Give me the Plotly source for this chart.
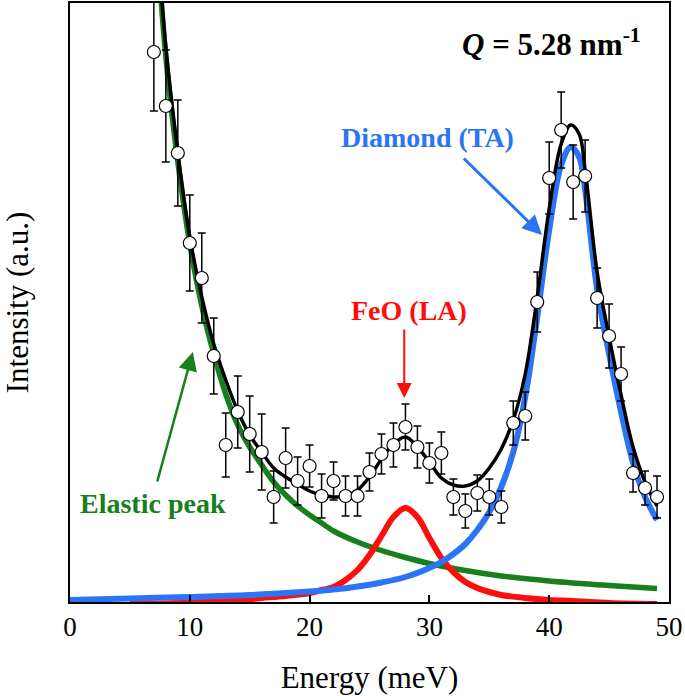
import plotly.graph_objects as go

# Measured data (energy in meV, intensity in arbitrary units)
energy = list(range(7, 50))
intensity = [550, 496, 449, 359, 324, 246, 157, 190, 168, 150, 105, 144, 121, 136, 106, 121,
             106, 106, 130, 148, 157, 175, 155, 139, 149, 105, 91, 109, 105, 95, 179, 186,
             300, 424, 472, 420, 426, 304, 266, 228, 129, 114, 105]
intensity_err = [59, 56, 53, 48, 45, 38, 32, 36, 38, 38, 26, 30, 24, 21, 22, 19, 20, 20, 19, 20,
                 22, 23, 21, 20, 21, 18, 17, 18, 18, 16, 22, 24, 30, 36, 38, 37, 36, 30, 32, 27,
                 19, 17, 21]

# Fit components
elastic_x = [7, 7.5, 8, 9, 10, 11, 12, 13, 14, 15, 16, 17, 18, 19, 20, 21, 22, 24, 26, 28, 30,
             33, 36, 40, 45, 49]
elastic_y = [715, 620, 545, 440, 358, 296, 248, 208, 177, 155, 137, 120, 107, 96, 87, 79, 71,
             60, 51.5, 44.5, 38.5, 31.5, 26, 21, 16.5, 13.5]

feo_x = [5, 8, 11, 14, 16, 18, 20, 21, 22, 23, 24, 25, 26, 27, 28, 29, 30, 31, 32, 33, 34, 35,
         36, 38, 40, 42, 45, 49]
feo_y = [-2, -1.5, 0, 2, 4, 6, 9, 12, 15, 22, 32, 47, 66, 85, 94, 85, 64, 44, 30, 20, 14, 10,
         7, 4, 2, 1, -1, -2]

diamond_x = [0, 5, 10, 15, 20, 22, 24, 26, 28, 30, 31, 32, 33, 34, 35, 36, 37, 38, 39, 40, 41,
             41.8, 42.5, 43, 44, 45, 46, 47, 48, 49]
diamond_y = [2, 3.5, 5, 7, 10.5, 12.5, 15.5, 19.5, 25, 34, 40, 48, 58, 72, 90, 115, 150, 205,
             285, 372, 437, 455, 445, 412, 313, 248, 190, 139, 105, 82]

total_x = [7, 7.5, 8, 9, 10, 11, 12, 13, 14, 15, 16, 17, 18, 19, 20, 21, 22, 23, 24, 25, 26,
           27, 28, 29, 30, 31, 32, 33, 34, 35, 36, 37, 38, 39, 40, 41, 41.8, 42.5, 43, 44, 45,
           46, 47, 48, 49]
total_y = [725, 630, 555, 450, 365, 305, 258, 222, 191, 167, 150, 134, 125, 118, 111, 107, 105,
           106, 112, 125, 143, 158, 165, 155, 140, 124, 117, 116, 121, 134, 153, 182, 228, 305,
           393, 458, 477, 468, 432, 330, 265, 207, 155, 120, 96]

FONT = "Liberation Serif, Times New Roman, serif"
GREEN = "#17801c"
RED = "#ff0d0d"
BLUE = "#2a74f5"

fig = go.Figure()
fig.add_trace(go.Scatter(x=elastic_x, y=elastic_y, mode="lines", line=dict(color=GREEN, width=5.5, shape="spline"), showlegend=False))
fig.add_trace(go.Scatter(x=feo_x, y=feo_y, mode="lines", line=dict(color=RED, width=6, shape="spline"), showlegend=False))
fig.add_trace(go.Scatter(x=diamond_x, y=diamond_y, mode="lines", line=dict(color=BLUE, width=6, shape="spline"), showlegend=False))
fig.add_trace(go.Scatter(x=total_x, y=total_y, mode="lines", line=dict(color="black", width=3.5, shape="spline"), showlegend=False))
fig.add_trace(go.Scatter(
    x=energy, y=intensity, mode="markers",
    marker=dict(symbol="circle", size=13, color="white", line=dict(color="black", width=1.2)),
    error_y=dict(type="data", array=intensity_err, color="black", thickness=1.5, width=4),
    showlegend=False))

annotations = [
    dict(x=47.8, y=560, xref="x", yref="y", text="<b><i>Q</i> = 5.28 nm<sup>-1</sup></b>",
         showarrow=False, xanchor="right", yanchor="middle", font=dict(family=FONT, size=31, color="black")),
    dict(x=29.8, y=465, xref="x", yref="y", text="<b>Diamond (TA)</b>", showarrow=False,
         font=dict(family=FONT, size=28, color=BLUE)),
    dict(x=28.3, y=292, xref="x", yref="y", text="<b>FeO (LA)</b>", showarrow=False,
         font=dict(family=FONT, size=28, color=RED)),
    dict(x=6.9, y=99, xref="x", yref="y", text="<b>Elastic peak</b>", showarrow=False,
         font=dict(family=FONT, size=28, color=GREEN)),
    dict(x=39.4, y=367, ax=32.75, ay=445, xref="x", yref="y", axref="x", ayref="y", text="",
         showarrow=True, arrowhead=2, arrowsize=1.3, arrowwidth=3, arrowcolor=BLUE),
    dict(x=27.9, y=204, ax=27.9, ay=274, xref="x", yref="y", axref="x", ayref="y", text="",
         showarrow=True, arrowhead=2, arrowsize=1.5, arrowwidth=2, arrowcolor=RED),
    dict(x=10.25, y=250, ax=7.25, ay=119, xref="x", yref="y", axref="x", ayref="y", text="",
         showarrow=True, arrowhead=2, arrowsize=1.5, arrowwidth=2.5, arrowcolor=GREEN),
]

fig.update_layout(
    width=685, height=696,
    margin=dict(l=70, r=16, t=3, b=94),
    paper_bgcolor="white", plot_bgcolor="white",
    font=dict(family=FONT, color="black"),
    annotations=annotations,
    xaxis=dict(range=[0, 50], tickvals=[0, 10, 20, 30, 40, 50], ticks="inside", ticklen=7,
               tickwidth=2, tickcolor="black", showline=True, linewidth=2, linecolor="black",
               mirror=True, showgrid=False, zeroline=False, automargin=False,
               ticklabelstandoff=0,
               tickfont=dict(family=FONT, size=27, color="black"),
               title=dict(text="Energy (meV)", font=dict(family=FONT, size=31, color="black"), standoff=25)),
    yaxis=dict(range=[0, 599], showticklabels=False, ticks="", showline=True, linewidth=2,
               linecolor="black", mirror=True, showgrid=False, zeroline=False, automargin=False,
               title=dict(text="Intensity (a.u.)", font=dict(family=FONT, size=31, color="black"), standoff=44)),
)

fig.write_html("out.html", config={"displayModeBar": False},
               post_script="document.body.style.margin='0';document.body.style.overflow='hidden';")
